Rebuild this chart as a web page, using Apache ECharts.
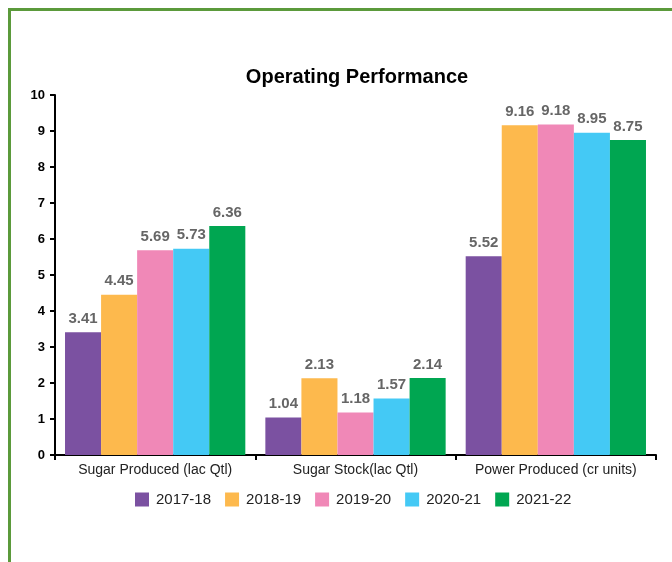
<!DOCTYPE html>
<html>
<head>
<meta charset="UTF-8">
<script src="https://cdn.jsdelivr.net/npm/echarts@6/dist/echarts.min.js"></script>
<style>
  html, body { margin: 0; padding: 0; background: #fff; }
  .frame {
    position: absolute; left: 8px; top: 8px; width: 700px; height: 600px;
    border-top: 3px solid #5b9a3b; border-left: 3px solid #5b9a3b;
  }
  #chart { position: absolute; left: 0; top: 0; width: 672px; height: 562px; }
</style>
</head>
<body>
<div class="frame"></div>
<div id="chart"></div>
<script>
// data
const categories = ['Sugar Produced (lac Qtl)', 'Sugar Stock(lac Qtl)', 'Power Produced (cr units)'];
const years = ['2017-18', '2018-19', '2019-20', '2020-21', '2021-22'];
const v2017 = [3.41, 1.04, 5.52];
const v2018 = [4.45, 2.13, 9.16];
const v2019 = [5.69, 1.18, 9.18];
const v2020 = [5.73, 1.57, 8.95];
const v2021 = [6.36, 2.14, 8.75];
const values = [v2017, v2018, v2019, v2020, v2021];
const colors = ['#7b51a1', '#fdb94d', '#f088b7', '#44c9f5', '#00a651'];

const chart = echarts.init(document.getElementById('chart'));
chart.setOption({
  animation: false,
  color: colors,
  title: {
    text: 'Operating Performance',
    left: 352, top: 62, textAlign: 'center',
    textStyle: { fontFamily: 'Liberation Sans, Arial', fontSize: 20, fontWeight: 'bold', color: '#000' }
  },
  legend: {
    data: years,
    left: 130, top: 487,
    itemWidth: 14, itemHeight: 14, itemGap: 14,
    icon: 'rect',
    textStyle: { fontFamily: 'Liberation Sans, Arial', fontSize: 15, color: '#222', padding: [0, 0, 0, 2] }
  },
  grid: { left: 55, right: 16, top: 95, bottom: 107 },
  xAxis: {
    type: 'category',
    data: categories,
    axisLine: { lineStyle: { color: '#000', width: 2 } },
    axisTick: { show: true, interval: 0, length: 5, lineStyle: { color: '#000', width: 2 } },
    axisLabel: { interval: 0, hideOverlap: false, fontFamily: 'Liberation Sans, Arial', fontSize: 14, color: '#222', margin: 8 }
  },
  yAxis: {
    type: 'value', min: 0, max: 10, interval: 1,
    splitLine: { show: false },
    axisLine: { show: true, lineStyle: { color: '#000', width: 2 } },
    axisTick: { show: true, length: 5, lineStyle: { color: '#000', width: 2 } },
    axisLabel: { fontFamily: 'Liberation Sans, Arial', fontSize: 13, fontWeight: 'bold', color: '#000', margin: 10 }
  },
  series: years.map((y, i) => ({
    name: y,
    type: 'bar',
    data: values[i],
    barGap: '0%',
    barCategoryGap: '10%',
    label: {
      show: true, position: 'top', distance: 6,
      formatter: p => p.value.toFixed(2),
      fontFamily: 'Liberation Sans, Arial', fontSize: 15, fontWeight: 'bold', color: '#666'
    }
  }))
});
</script>
</body>
</html>
